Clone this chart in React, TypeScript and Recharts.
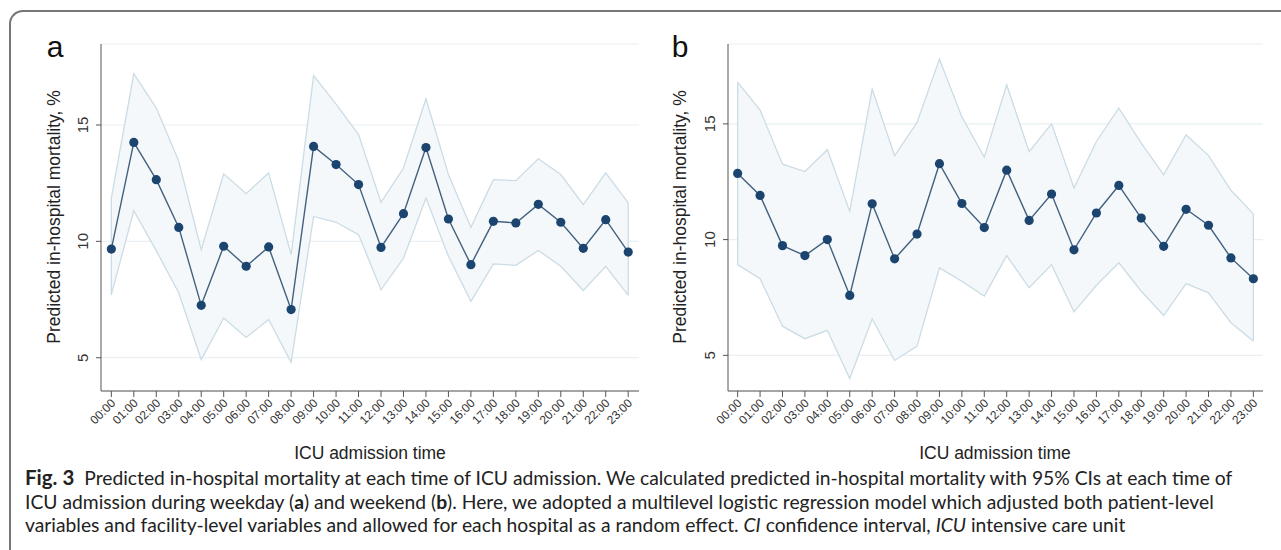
import React from 'react';
import { ComposedChart, Area, Line, XAxis, YAxis, CartesianGrid, ReferenceLine } from 'recharts';

const hours = ['00:00','01:00','02:00','03:00','04:00','05:00','06:00','07:00','08:00','09:00','10:00','11:00','12:00','13:00','14:00','15:00','16:00','17:00','18:00','19:00','20:00','21:00','22:00','23:00'];
const hourIndex = hours.map((_, i) => i);
const yTicks = [5, 10, 15];

// Panel a: weekday
const weekdayEst = [9.67, 14.25, 12.65, 10.6, 7.25, 9.79, 8.93, 9.76, 7.07, 14.08, 13.3, 12.44, 9.74, 11.19, 14.03, 10.96, 9.0, 10.86, 10.79, 11.59, 10.82, 9.7, 10.93, 9.54];
const weekdayUpper = [11.86, 17.2, 15.73, 13.44, 9.64, 12.9, 12.05, 12.94, 9.43, 17.12, 15.9, 14.59, 11.68, 13.15, 16.13, 12.87, 10.6, 12.65, 12.61, 13.55, 12.87, 11.58, 12.94, 11.65];
const weekdayLower = [7.71, 11.32, 9.6, 7.78, 4.92, 6.71, 5.87, 6.64, 4.8, 11.07, 10.82, 10.29, 7.92, 9.28, 11.86, 9.36, 7.42, 9.03, 8.97, 9.61, 8.93, 7.89, 8.93, 7.68];

// Panel b: weekend
const weekendEst = [12.86, 11.91, 9.74, 9.31, 10.0, 7.59, 11.55, 9.17, 10.24, 13.28, 11.56, 10.52, 13.0, 10.83, 11.97, 9.56, 11.15, 12.34, 10.93, 9.71, 11.31, 10.62, 9.21, 8.31];
const weekendUpper = [16.8, 15.6, 13.26, 12.94, 13.88, 11.22, 16.5, 13.62, 15.06, 17.8, 15.3, 13.56, 16.68, 13.8, 15.0, 12.23, 14.24, 15.68, 14.17, 12.8, 14.53, 13.63, 12.13, 11.11];
const weekendLower = [8.92, 8.31, 6.26, 5.72, 6.08, 4.0, 6.58, 4.78, 5.4, 8.78, 8.2, 7.56, 9.31, 7.92, 8.92, 6.88, 8.03, 9.0, 7.77, 6.72, 8.1, 7.7, 6.41, 5.62];

const AXIS_FONT = '"Liberation Sans", Arial, sans-serif';
const CAPTION_FONT = 'Lato, "Noto Sans", sans-serif';

const buildRows = (est: number[], lo: number[], hi: number[]) =>
  hours.map((_, i) => ({ i, est: est[i], lo: lo[i], hi: hi[i], band: [lo[i], hi[i]] }));

const XTick = (props: any) => {
  const { x, y, payload } = props;
  const ax = x + 2;
  const ay = y + 2;
  return (
    <text x={ax} y={ay} transform={`rotate(-45, ${ax}, ${ay})`} textAnchor="end" dominantBaseline="central"
      fontSize={12} fill="#333" fontFamily={AXIS_FONT}>{hours[payload.value]}</text>
  );
};

const YTick = (props: any) => {
  const { x, y, payload } = props;
  const ax = x - 11;
  return (
    <text x={ax} y={y} transform={`rotate(-90, ${ax}, ${y})`} textAnchor="middle" dominantBaseline="central"
      fontSize={15} fill="#333" fontFamily={AXIS_FONT}>{payload.value}</text>
  );
};

type PanelProps = {
  est: number[]; lo: number[]; hi: number[];
  width: number; margin: any; xDomain: [number, number]; yDomain: [number, number];
};

const Panel = ({ est, lo, hi, width, margin, xDomain, yDomain }: PanelProps) => {
  const rows = buildRows(est, lo, hi);
  const last = hours.length - 1;
  return (
    <ComposedChart width={width} height={440} data={rows} margin={margin}>
      <CartesianGrid vertical={false} stroke="#e9eff3" strokeWidth={1.2} />
      <XAxis dataKey="i" type="number" domain={xDomain} ticks={hourIndex} interval={0} allowDataOverflow
        tick={<XTick />} tickSize={6} height={45} stroke="#555" tickLine={{ stroke: '#555' }} />
      <YAxis type="number" domain={yDomain} ticks={yTicks} allowDataOverflow width={40}
        tick={<YTick />} tickSize={5} stroke="#555" tickLine={{ stroke: '#555' }} />
      <Area dataKey="band" type="linear" fill="#f5f8fb" fillOpacity={1} stroke="none" isAnimationActive={false} />
      <Line dataKey="hi" type="linear" stroke="#cbdce5" strokeWidth={1.3} dot={false} isAnimationActive={false} />
      <Line dataKey="lo" type="linear" stroke="#cbdce5" strokeWidth={1.3} dot={false} isAnimationActive={false} />
      <ReferenceLine segment={[{ x: 0, y: lo[0] }, { x: 0, y: hi[0] }]} stroke="#cbdce5" strokeWidth={1.3} ifOverflow="visible" />
      <ReferenceLine segment={[{ x: last, y: lo[last] }, { x: last, y: hi[last] }]} stroke="#cbdce5" strokeWidth={1.3} ifOverflow="visible" />
      <Line dataKey="est" type="linear" stroke="#42617f" strokeWidth={1.4}
        dot={{ r: 4.6, fill: '#1b446f', stroke: 'none' }} isAnimationActive={false} />
    </ComposedChart>
  );
};

const abs = (s: React.CSSProperties): React.CSSProperties => ({ position: 'absolute', ...s });

export default function App() {
  const yTitle = 'Predicted in-hospital mortality, %';
  return (
    <div style={abs({ left: 0, top: 0, width: 1281, height: 550, background: '#fff', overflow: 'hidden' })}>
      <div style={abs({ left: 9, top: 10, width: 1300, height: 600, borderLeft: '2px solid #777', borderTop: '2px solid #777', borderTopLeftRadius: 14 })} />

      <div style={abs({ left: 0, top: 0 })}>
        <Panel est={weekdayEst} lo={weekdayLower} hi={weekdayUpper} width={660}
          margin={{ top: 44, right: 21, left: 61, bottom: 4 }} xDomain={[-0.46, 23.48]} yDomain={[3.57, 18.48]} />
      </div>
      <div style={abs({ left: 620, top: 0 })}>
        <Panel est={weekendEst} lo={weekendLower} hi={weekendUpper} width={661}
          margin={{ top: 44, right: 18, left: 68, bottom: 4 }} xDomain={[-0.43, 23.43]} yDomain={[3.46, 18.45]} />
      </div>

      <div style={abs({ left: 55, top: 47, transform: 'translate(-50%, -50%)', fontFamily: AXIS_FONT, fontSize: 30, color: '#111', lineHeight: 1 })}>a</div>
      <div style={abs({ left: 680, top: 47, transform: 'translate(-50%, -50%)', fontFamily: AXIS_FONT, fontSize: 30, color: '#111', lineHeight: 1 })}>b</div>

      <div style={abs({ left: 54, top: 217, transform: 'translate(-50%, -50%) rotate(-90deg)', whiteSpace: 'nowrap', fontFamily: AXIS_FONT, fontSize: 17.5, color: '#222' })}>{yTitle}</div>
      <div style={abs({ left: 680, top: 217, transform: 'translate(-50%, -50%) rotate(-90deg)', whiteSpace: 'nowrap', fontFamily: AXIS_FONT, fontSize: 17.5, color: '#222' })}>{yTitle}</div>

      <div style={abs({ left: 370, top: 453, transform: 'translate(-50%, -50%)', whiteSpace: 'nowrap', fontFamily: AXIS_FONT, fontSize: 17.5, color: '#222' })}>ICU admission time</div>
      <div style={abs({ left: 995, top: 453, transform: 'translate(-50%, -50%)', whiteSpace: 'nowrap', fontFamily: AXIS_FONT, fontSize: 17.5, color: '#222' })}>ICU admission time</div>

      <div style={abs({ left: 25, top: 466, fontFamily: CAPTION_FONT, fontSize: 19.3, lineHeight: '23.5px', color: '#222', whiteSpace: 'nowrap' })}>
        <div><b style={{ fontSize: 20.5 }}>Fig. 3</b>&nbsp;&nbsp;Predicted in-hospital mortality at each time of ICU admission. We calculated predicted in-hospital mortality with 95% CIs at each time of</div>
        <div>ICU admission during weekday (<b>a</b>) and weekend (<b>b</b>). Here, we adopted a multilevel logistic regression model which adjusted both patient-level</div>
        <div>variables and facility-level variables and allowed for each hospital as a random effect. <i>CI</i> confidence interval, <i>ICU</i> intensive care unit</div>
      </div>
    </div>
  );
}
